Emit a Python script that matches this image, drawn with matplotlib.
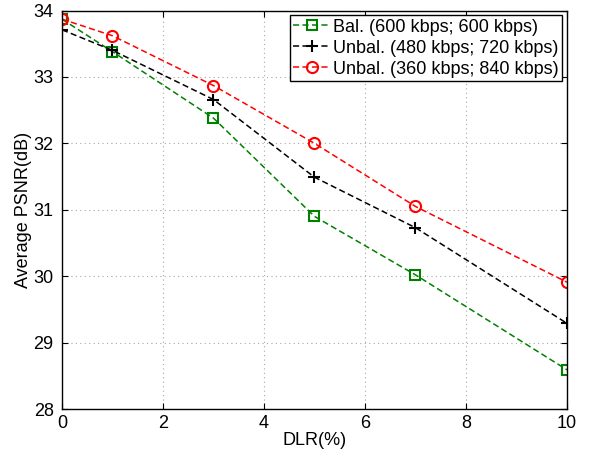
import matplotlib
matplotlib.use("Agg")
import matplotlib.pyplot as plt

plt.rcParams["font.family"] = ["Liberation Sans", "DejaVu Sans"]

dlr = [0, 1, 3, 5, 7, 10]
psnr_bal = [33.87, 33.38, 32.38, 30.90, 30.02, 28.59]
psnr_unbal_480 = [33.71, 33.40, 32.66, 31.49, 30.73, 29.29]
psnr_unbal_360 = [33.87, 33.62, 32.87, 32.00, 31.05, 29.91]

labels = [
    "Bal. (600 kbps; 600 kbps)",
    "Unbal. (480 kbps; 720 kbps)",
    "Unbal. (360 kbps; 840 kbps)",
]

fig = plt.figure(figsize=(5.92, 4.57), dpi=100)
ax = fig.add_axes([0.1047, 0.105, 0.853, 0.872])

dash = (0, (4, 2.2))
ax.plot(dlr, psnr_bal, linestyle=dash, color="#008000", lw=1.1, marker="s", ms=6.5,
        mfc="none", mew=1.5, label=labels[0])
ax.plot(dlr, psnr_unbal_480, linestyle=dash, color="black", lw=1.1, marker="+", ms=9,
        mew=1.5, label=labels[1])
ax.plot(dlr, psnr_unbal_360, linestyle=dash, color="#ff0000", lw=1.1, marker="o", ms=8,
        mfc="none", mew=1.5, label=labels[2])

ax.set_xlim(0, 10)
ax.set_ylim(28, 34)
ax.set_xticks([0, 2, 4, 6, 8, 10])
ax.set_yticks([28, 29, 30, 31, 32, 33, 34])
ax.tick_params(direction="in", top=True, right=True, labelsize=13, length=4)
ax.tick_params(axis="x", pad=4)
ax.tick_params(axis="y", pad=6)
ax.grid(True, linestyle=(0, (1, 3)), color="#a8a8a8", lw=0.8)
for s in ax.spines.values():
    s.set_linewidth(1.0)

ax.set_xlabel("DLR(%)", fontsize=13, labelpad=0)
ax.set_ylabel("Average PSNR(dB)", fontsize=13, labelpad=1)

leg = ax.legend(loc="upper right", fontsize=13, fancybox=False, framealpha=1,
                edgecolor="black", borderpad=0.2, labelspacing=0.22,
                handlelength=2.0, handletextpad=0.2, borderaxespad=0.25)
leg.get_frame().set_linewidth(1.0)

fig.savefig("out.png", dpi=100)
